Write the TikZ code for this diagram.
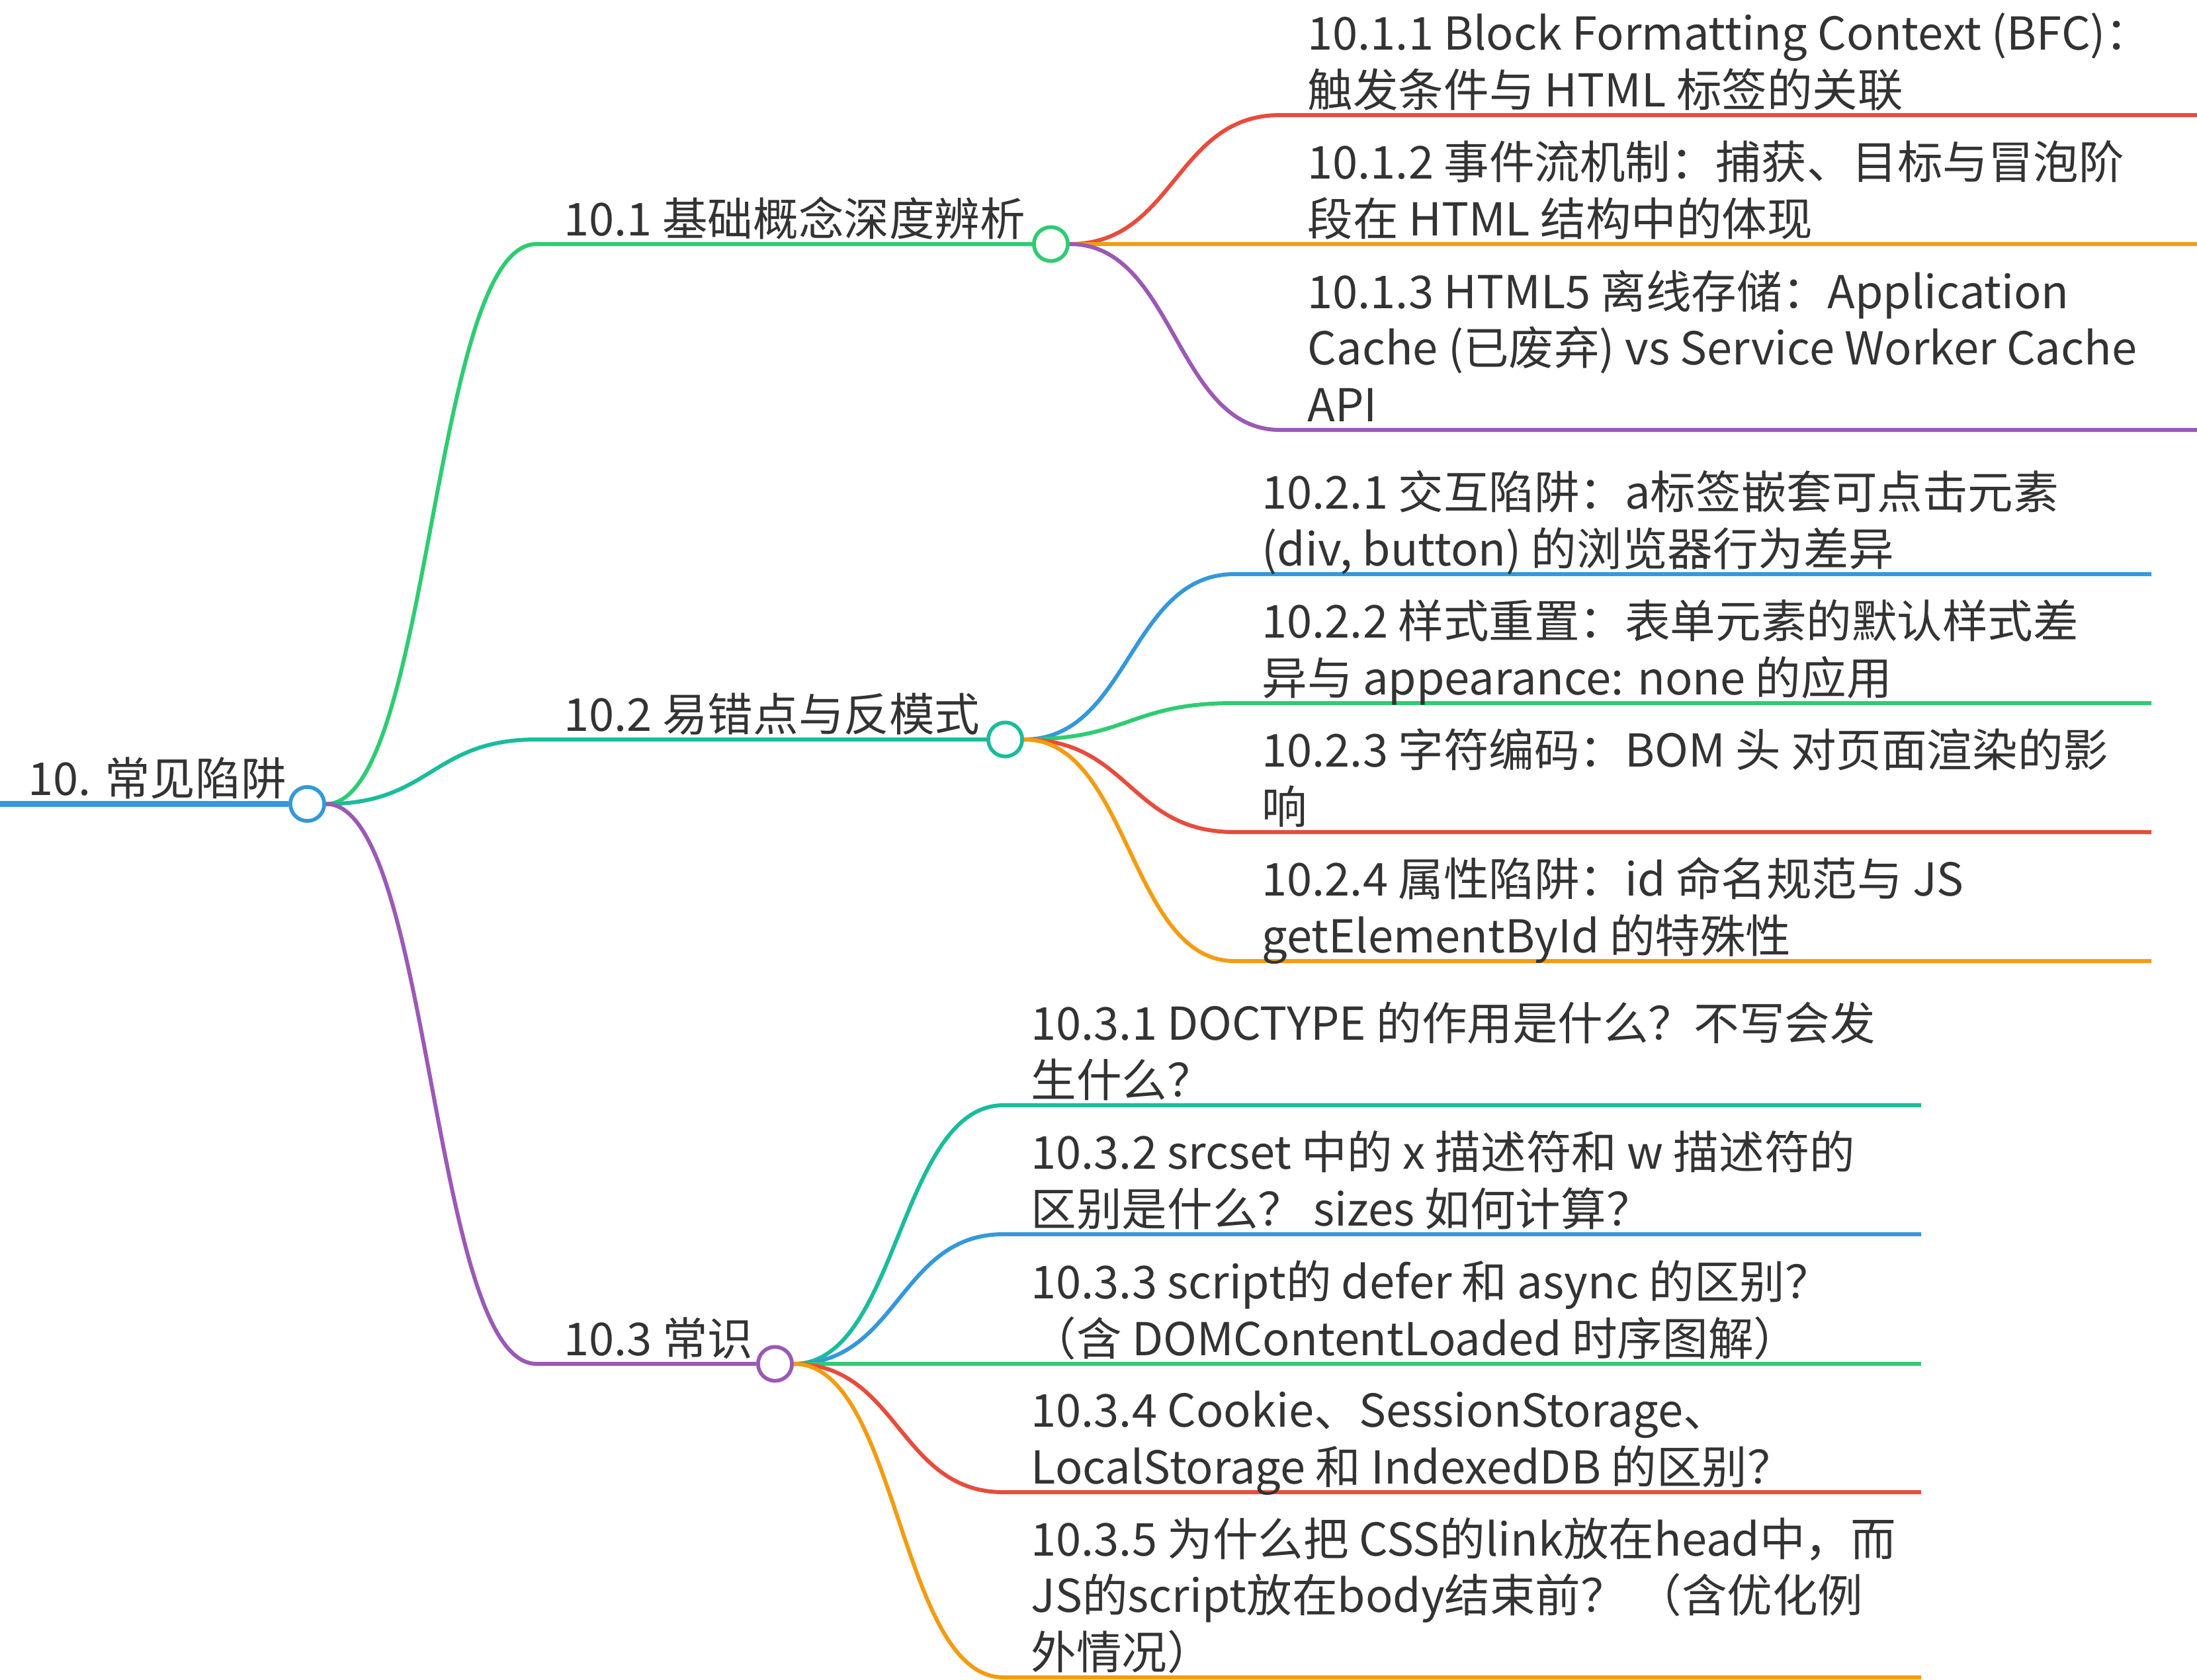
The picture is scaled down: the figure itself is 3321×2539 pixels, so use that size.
\documentclass[tikz,border=0pt]{standalone}
\usepackage{fontspec}
\setmainfont{Noto Sans CJK SC}
\usepackage{tikz}
\usetikzlibrary{calc}
\definecolor{mblue}{HTML}{3498DB}
\definecolor{mgreen}{HTML}{2ECC71}
\definecolor{mteal}{HTML}{1ABC9C}
\definecolor{mpurple}{HTML}{9B59B6}
\definecolor{mred}{HTML}{E74C3C}
\definecolor{morange}{HTML}{F39C12}
\definecolor{ink}{HTML}{333333}

\begin{document}
\begin{tikzpicture}[
        x=0.01cm, y=-0.01cm,
        font=\fontsize{19.5pt}{24.2pt}\selectfont,
        topic/.style={anchor=base west, inner sep=0pt, align=left, text=ink},
        dot/.style={circle, draw, fill=white, line width=0.057cm,
            minimum size=0.513cm, inner sep=0pt},
        link/.style={line width=0.06cm, line join=round,
            to path={let \p1=(\tikztostart), \p2=(\tikztotarget) in
                .. controls ({(\x1+\x2)/2},\y1) and ({(\x1+\x2)/2},\y2) .. (\tikztotarget) \tikztonodes}}
    ]
    \useasboundingbox (0,0) rectangle (3321,2539);

    % Hubs
    \node[dot, draw=mblue] (root) at (464.5,1215.5) {};
    \node[dot, draw=mgreen] (basics) at (1588.5,369) {};
    \node[dot, draw=mteal] (traps) at (1519.5,1118) {};
    \node[dot, draw=mpurple] (common) at (1171.5,2062) {};

    % Root
    \coordinate (rootin) at (0,1215.5);
    \draw[mblue, line width=0.09cm] (rootin) -- (root.west);
    \node[topic] (roott) at (42,1202.5) {10. 常见陷阱};

    % Level 1
    \coordinate (basicsin) at (811,369);
    \coordinate (trapsin) at (811,1118);
    \coordinate (commonin) at (811,2062);
    \draw[link, mgreen] (root.east) to (basicsin) -- (basics.west);
    \draw[link, mteal] (root.east) to (trapsin) -- (traps.west);
    \draw[link, mpurple] (root.east) to (commonin) -- (common.west);
    \node[topic] (basicst) at (852,356) {10.1 基础概念深度辨析};
    \node[topic] (trapst) at (852,1105) {10.2 易错点与反模式};
    \node[topic] (commont) at (852,2049) {10.3 常识};

    % 10.1
    \coordinate (b1s) at (1935,174);  \coordinate (b1e) at (3321,174);
    \coordinate (b2s) at (1935,369);  \coordinate (b2e) at (3321,369);
    \coordinate (b3s) at (1935,650);  \coordinate (b3e) at (3321,650);
    \draw[link, mred] (basics.east) to (b1s) -- (b1e);
    \draw[link, morange] (basics.east) to (b2s) -- (b2e);
    \draw[link, mpurple] (basics.east) to (b3s) -- (b3e);
    \node[topic] (b1) at (1976,161) {10.1.1 Block Formatting Context (BFC)：\\触发条件与 HTML 标签的关联};
    \node[topic] (b2) at (1976,356) {10.1.2 事件流机制：捕获、目标与冒泡阶\\段在 HTML 结构中的体现};
    \node[topic] (b3) at (1976,637) {10.1.3 HTML5 离线存储：Application\\Cache (已废弃) vs Service Worker Cache\\API};

    % 10.2
    \coordinate (t1s) at (1866,868);  \coordinate (t1e) at (3252,868);
    \coordinate (t2s) at (1866,1063); \coordinate (t2e) at (3252,1063);
    \coordinate (t3s) at (1866,1258); \coordinate (t3e) at (3252,1258);
    \coordinate (t4s) at (1866,1453); \coordinate (t4e) at (3252,1453);
    \draw[link, mblue] (traps.east) to (t1s) -- (t1e);
    \draw[link, mgreen] (traps.east) to (t2s) -- (t2e);
    \draw[link, mred] (traps.east) to (t3s) -- (t3e);
    \draw[link, morange] (traps.east) to (t4s) -- (t4e);
    \node[topic] (t1) at (1907,855) {10.2.1 交互陷阱：a标签嵌套可点击元素\\(div, button) 的浏览器行为差异};
    \node[topic] (t2) at (1907,1050) {10.2.2 样式重置：表单元素的默认样式差\\异与 appearance: none 的应用};
    \node[topic] (t3) at (1907,1245) {10.2.3 字符编码：BOM 头 对页面渲染的影\\响};
    \node[topic] (t4) at (1907,1440) {10.2.4 属性陷阱：id 命名规范与 JS\\getElementById 的特殊性};

    % 10.3
    \coordinate (c1s) at (1517,1671); \coordinate (c1e) at (2904,1671);
    \coordinate (c2s) at (1517,1866); \coordinate (c2e) at (2904,1866);
    \coordinate (c3s) at (1517,2062); \coordinate (c3e) at (2904,2062);
    \coordinate (c4s) at (1517,2256); \coordinate (c4e) at (2904,2256);
    \coordinate (c5s) at (1517,2536); \coordinate (c5e) at (2904,2536);
    \draw[link, mteal] (common.east) to (c1s) -- (c1e);
    \draw[link, mblue] (common.east) to (c2s) -- (c2e);
    \draw[link, mgreen] (common.east) to (c3s) -- (c3e);
    \draw[link, mred] (common.east) to (c4s) -- (c4e);
    \draw[link, morange] (common.east) to (c5s) -- (c5e);
    \node[topic] (c1) at (1558,1658) {10.3.1 DOCTYPE 的作用是什么？不写会发\\生什么？};
    \node[topic] (c2) at (1558,1853) {10.3.2 srcset 中的 x 描述符和 w 描述符的\\区别是什么？ sizes 如何计算？};
    \node[topic] (c3) at (1558,2049) {10.3.3 script的 defer 和 async 的区别？\\（含 DOMContentLoaded 时序图解）};
    \node[topic] (c4) at (1558,2243) {10.3.4 Cookie、SessionStorage、\\LocalStorage 和 IndexedDB 的区别？};
    \node[topic] (c5) at (1558,2523) {10.3.5 为什么把 CSS的link放在head中，而\\JS的script放在body结束前？ （含优化例\\外情况）};
\end{tikzpicture}
\end{document}
